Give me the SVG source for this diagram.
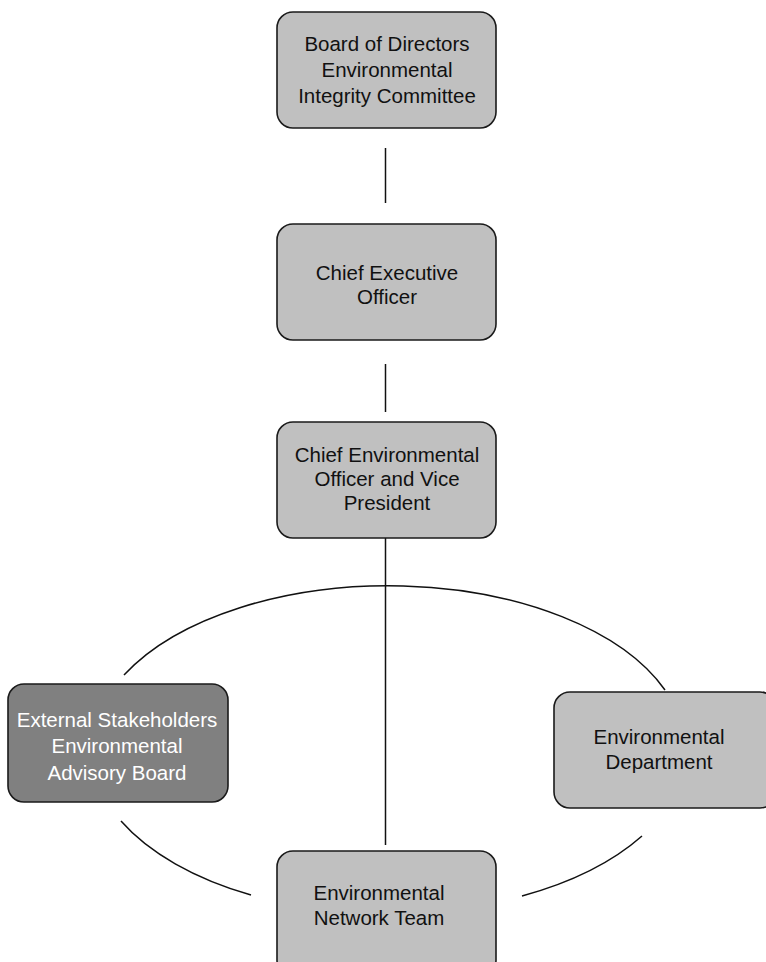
<svg xmlns="http://www.w3.org/2000/svg" width="766" height="962" viewBox="0 0 766 962">
<style>
.box{fill:#c0c0c0;stroke:#1a1a1a;stroke-width:1.6}
.dark{fill:#808080;stroke:#1a1a1a;stroke-width:1.6}
.t{font-family:"Liberation Sans",Arial,sans-serif;font-size:20.5px;fill:#111;text-anchor:middle}
.tw{font-family:"Liberation Sans",Arial,sans-serif;font-size:20.5px;fill:#fff;text-anchor:middle}
.c{fill:none;stroke:#111;stroke-width:1.5}
</style>
<rect width="766" height="962" fill="#fff"/>
<g id="connectors">
<line class="c" x1="385.5" y1="148" x2="385.5" y2="203"/>
<line class="c" x1="385.5" y1="364" x2="385.5" y2="412"/>
<line class="c" x1="385.5" y1="537" x2="385.5" y2="845"/>
<path class="c" d="M124,675 A297,164 0 0 1 665,690"/>
<path class="c" d="M121,821 A297,164 0 0 0 251,895"/>
<path class="c" d="M522,896 A297,164 0 0 0 642,836"/>
</g>
<g id="board">
<rect class="box" x="277" y="12" width="219" height="116" rx="16"/>
<text class="t" x="387" y="51">Board of Directors</text>
<text class="t" x="387" y="77">Environmental</text>
<text class="t" x="387" y="103">Integrity Committee</text>
</g>
<g id="ceo">
<rect class="box" x="277" y="224" width="219" height="116" rx="16"/>
<text class="t" x="387" y="280">Chief Executive</text>
<text class="t" x="387" y="304">Officer</text>
</g>
<g id="ceovp">
<rect class="box" x="277" y="422" width="219" height="116" rx="16"/>
<text class="t" x="387" y="462">Chief Environmental</text>
<text class="t" x="387" y="486">Officer and Vice</text>
<text class="t" x="387" y="510">President</text>
</g>
<g id="stakeholders">
<rect class="dark" x="8" y="684" width="220" height="118" rx="16"/>
<text class="tw" x="117" y="727">External Stakeholders</text>
<text class="tw" x="117" y="753">Environmental</text>
<text class="tw" x="117" y="780">Advisory Board</text>
</g>
<g id="department">
<rect class="box" x="554" y="692" width="222" height="116" rx="16"/>
<text class="t" x="659" y="744">Environmental</text>
<text class="t" x="659" y="769">Department</text>
</g>
<g id="network">
<rect class="box" x="277" y="851" width="219" height="125" rx="16"/>
<text class="t" x="379" y="900">Environmental</text>
<text class="t" x="379" y="925">Network Team</text>
</g>
</svg>
